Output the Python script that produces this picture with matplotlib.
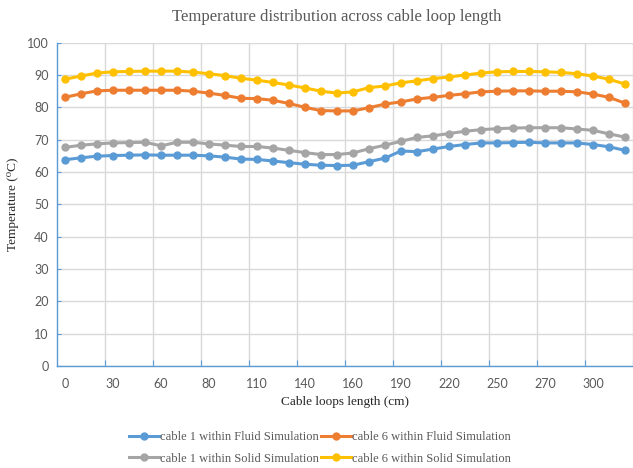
import numpy as np
import matplotlib
matplotlib.use("Agg")
import matplotlib.pyplot as plt

# ------------------ Data ------------------ #
# 36 measurement points along the loop, only every 3rd one is labelled
TICK_LABELS = ["0", "30", "60", "80", "110", "140", "160", "190", "220", "250", "270", "300"]
N_POINTS = 36

cable1_fluid = [63.8, 64.4, 64.9, 65.1, 65.2, 65.3, 65.2, 65.2, 65.2, 65.0, 64.6, 64.0,
                63.9, 63.4, 62.9, 62.4, 62.1, 62.0, 62.1, 63.2, 64.3, 66.5, 66.3, 67.1,
                67.9, 68.5, 69.0, 69.0, 69.1, 69.2, 69.0, 69.0, 69.0, 68.5, 67.8, 66.7]
cable6_fluid = [83.1, 84.2, 85.1, 85.3, 85.3, 85.3, 85.3, 85.3, 85.0, 84.4, 83.7, 82.8,
                82.7, 82.2, 81.2, 80.0, 79.0, 78.9, 78.9, 79.9, 81.0, 81.7, 82.6, 83.1,
                83.7, 84.2, 84.8, 85.0, 85.1, 85.1, 85.0, 85.0, 84.8, 84.1, 83.1, 81.3]
cable1_solid = [67.6, 68.3, 68.7, 69.0, 69.1, 69.2, 68.1, 69.2, 69.2, 68.7, 68.3, 67.9,
                67.9, 67.4, 66.7, 66.0, 65.4, 65.4, 65.9, 67.2, 68.3, 69.5, 70.7, 71.2,
                71.9, 72.6, 73.1, 73.4, 73.6, 73.7, 73.7, 73.7, 73.3, 72.9, 71.8, 70.8]
cable6_solid = [88.7, 89.7, 90.6, 91.0, 91.1, 91.2, 91.2, 91.2, 90.9, 90.4, 89.8, 89.0,
                88.4, 87.7, 86.9, 86.0, 85.0, 84.4, 84.8, 86.1, 86.6, 87.6, 88.2, 88.9,
                89.4, 90.0, 90.6, 91.0, 91.1, 91.1, 91.0, 90.8, 90.4, 89.7, 88.7, 87.2]

SERIES = [
    ("cable 1 within Fluid Simulation", cable1_fluid, "#5B9BD5"),
    ("cable 6 within Fluid Simulation", cable6_fluid, "#ED7D31"),
    ("cable 1 within Solid Simulation", cable1_solid, "#A5A5A5"),
    ("cable 6 within Solid Simulation", cable6_solid, "#FFC000"),
]

TEXT_GREY = "#595959"
SERIF = ["Liberation Serif", "DejaVu Serif"]

# ------------------ Figure ------------------ #
fig = plt.figure(figsize=(6.33, 4.68), dpi=100)
ax = fig.add_axes([57 / 633, 1 - 366 / 468, 576 / 633, (366 - 42.7) / 468])

x = np.arange(N_POINTS)
handles = []
for label, values, color in SERIES:
    h, = ax.plot(x, values, color=color, linewidth=2.2, marker="o",
                 markersize=5, label=label, clip_on=False, zorder=3)
    handles.append(h)

# axes limits / ticks
ax.set_ylim(0, 100)
ax.set_xlim(-0.5, -0.5 + 576 / 16.1)
ax.set_yticks(np.arange(0, 101, 10))

# tick marks + vertical grid sit between categories, labels on every 3rd point
ax.set_xticks(np.arange(2.5, N_POINTS, 3))
ax.set_xticklabels([])
ax.set_xticks(np.arange(0, N_POINTS, 3), minor=True)
ax.set_xticklabels(TICK_LABELS, minor=True)

ax.grid(True, color="#D9D9D9", linewidth=1.0, zorder=0)
ax.set_axisbelow(True)

for side in ["top", "right"]:
    ax.spines[side].set_visible(False)
for side in ["left", "bottom"]:
    ax.spines[side].set_color("#5B9BD5")
    ax.spines[side].set_linewidth(1.0)

ax.tick_params(axis="x", which="major", direction="in", length=4, color="#5B9BD5")
ax.tick_params(axis="x", which="minor", length=0, pad=9)
ax.tick_params(axis="y", direction="in", length=3, color="#5B9BD5", pad=6)
for lab in ax.get_xticklabels(minor=True) + ax.get_yticklabels():
    lab.set_fontfamily(["Lato", "DejaVu Sans"])
    lab.set_fontsize(9)
    lab.set_color(TEXT_GREY)

# titles / labels
fig.text(337 / 633, 1 - 17 / 468, "Temperature distribution across cable loop length",
         ha="center", va="center", fontsize=12, family=SERIF, color=TEXT_GREY)
ax.set_xlabel("Cable loops length (cm)", fontsize=9.5, family=SERIF, color="#262626", labelpad=4)
ax.set_ylabel("Temperature (\u2070C)", fontsize=9.5, family=SERIF, color="#262626", labelpad=6)

# legend: rows are [fluid 1, fluid 6], [solid 1, solid 6]
order = [handles[0], handles[2], handles[1], handles[3]]
fig.legend(order, [h.get_label() for h in order], ncol=2, loc="center",
           bbox_to_anchor=(320 / 633, 1 - 448 / 468), frameon=False,
           prop={"family": SERIF, "size": 9}, labelcolor=TEXT_GREY,
           handlelength=2.4, handletextpad=0.1, columnspacing=0.1, labelspacing=0.75)

fig.savefig("out.png", dpi=100)
